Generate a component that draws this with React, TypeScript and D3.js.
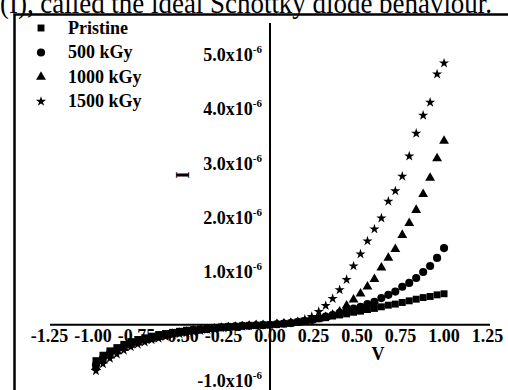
import * as d3 from "d3";
import { useEffect, useRef } from "react";

// bias voltage (V)
const voltage = [
  -1.0, -0.96, -0.92, -0.88, -0.84, -0.8, -0.76, -0.72, -0.68, -0.64, -0.6, -0.56, -0.52,
  -0.48, -0.44, -0.4, -0.36, -0.32, -0.28, -0.24, -0.2, -0.16, -0.12, -0.08, -0.04, 0.0,
  0.04, 0.08, 0.12, 0.16, 0.2, 0.24, 0.28, 0.32, 0.36, 0.4, 0.44, 0.48, 0.52, 0.56, 0.6,
  0.64, 0.68, 0.72, 0.76, 0.8, 0.84, 0.88, 0.92, 0.96, 1.0,
];

// current, in units of 1e-6 A
const pristine = [
  -0.66, -0.56, -0.48, -0.42, -0.36, -0.31, -0.27, -0.24, -0.21, -0.18, -0.16, -0.14, -0.12,
  -0.1, -0.09, -0.08, -0.06, -0.05, -0.04, -0.03, -0.03, -0.02, -0.01, -0.01, 0.0, 0.0,
  0.01, 0.02, 0.03, 0.05, 0.07, 0.09, 0.11, 0.13, 0.16, 0.18, 0.2, 0.23, 0.25, 0.28, 0.3,
  0.33, 0.36, 0.38, 0.41, 0.44, 0.47, 0.5, 0.52, 0.55, 0.57,
];
const kGy500 = [
  -0.74, -0.62, -0.53, -0.46, -0.4, -0.35, -0.31, -0.27, -0.24, -0.21, -0.18, -0.16, -0.14,
  -0.12, -0.1, -0.09, -0.08, -0.06, -0.05, -0.04, -0.03, -0.02, -0.02, -0.01, -0.01, 0.0,
  0.01, 0.02, 0.03, 0.05, 0.07, 0.09, 0.12, 0.15, 0.18, 0.22, 0.26, 0.3, 0.33, 0.38, 0.42,
  0.49, 0.55, 0.61, 0.7, 0.77, 0.86, 0.97, 1.08, 1.23, 1.41,
];
const kGy1000 = [
  -0.78, -0.66, -0.57, -0.49, -0.43, -0.37, -0.33, -0.29, -0.26, -0.23, -0.2, -0.17, -0.15,
  -0.13, -0.11, -0.1, -0.08, -0.07, -0.06, -0.05, -0.04, -0.03, -0.02, -0.01, -0.01, 0.0,
  0.01, 0.02, 0.03, 0.04, 0.06, 0.08, 0.11, 0.14, 0.18, 0.24, 0.35, 0.46, 0.57, 0.7, 0.84,
  1.05, 1.23, 1.39, 1.65, 1.87, 2.11, 2.4, 2.7, 3.06, 3.38,
];
const kGy1500 = [
  -0.85, -0.72, -0.62, -0.54, -0.47, -0.41, -0.36, -0.32, -0.28, -0.25, -0.22, -0.19, -0.17,
  -0.15, -0.13, -0.11, -0.09, -0.08, -0.06, -0.05, -0.04, -0.03, -0.02, -0.01, -0.01, 0.0,
  0.01, 0.02, 0.04, 0.06, 0.1, 0.15, 0.24, 0.35, 0.48, 0.64, 0.83, 1.08, 1.3, 1.54, 1.76,
  1.96, 2.27, 2.46, 2.73, 3.1, 3.52, 3.85, 4.09, 4.61, 4.81,
];

const seriesNames = ["Pristine", "500 kGy", "1000 kGy", "1500 kGy"];
const xTicks = [-1.25, -1.0, -0.75, -0.5, -0.25, 0.0, 0.25, 0.5, 0.75, 1.0, 1.25];
const yTicks = [-1.0, 1.0, 2.0, 3.0, 4.0, 5.0];

const FONT = "'Liberation Serif', 'Times New Roman', serif";

export default function App() {
  const ref = useRef<SVGSVGElement | null>(null);

  useEffect(() => {
    const svg = d3.select(ref.current);
    svg.selectAll("*").remove();

    const width = 508;
    const height = 390;
    svg.attr("viewBox", `0 0 ${width} ${height}`);

    const x = d3.scaleLinear().domain([-1.264, 1.264]).range([50, 490]);
    const y = d3.scaleLinear().domain([-1.2, 5.55]).range([390, 23]);

    // caption line cut off above the figure
    svg
      .append("text")
      .attr("x", 0)
      .attr("y", 12.5)
      .attr("font-family", FONT)
      .attr("font-size", 29)
      .attr("textLength", 492)
      .attr("lengthAdjust", "spacingAndGlyphs")
      .text("(I), called the ideal Schottky diode behaviour.");

    // figure frame (top + left)
    svg
      .append("path")
      .attr("d", `M14.5,${height} V14.5 H${width}`)
      .attr("fill", "none")
      .attr("stroke", "#000")
      .attr("stroke-width", 2.5);

    // axes through the origin
    svg
      .append("line")
      .attr("x1", x(-1.264))
      .attr("x2", x(1.264))
      .attr("y1", y(0))
      .attr("y2", y(0))
      .attr("stroke", "#000")
      .attr("stroke-width", 2);
    svg
      .append("line")
      .attr("x1", x(0))
      .attr("x2", x(0))
      .attr("y1", y(5.55))
      .attr("y2", y(-1.2))
      .attr("stroke", "#000")
      .attr("stroke-width", 2);

    // x tick labels
    svg
      .append("g")
      .selectAll("text")
      .data(xTicks)
      .enter()
      .append("text")
      .attr("x", (d) => x(d) - (d < 0 ? 3 : 0))
      .attr("y", y(0) + 17)
      .attr("text-anchor", "middle")
      .attr("font-family", FONT)
      .attr("font-weight", "bold")
      .attr("font-size", 18)
      .text((d) => d.toFixed(2));

    // y tick labels
    const yl = svg
      .append("g")
      .selectAll("text")
      .data(yTicks)
      .enter()
      .append("text")
      .attr("x", 262)
      .attr("y", (d) => y(d) + 8)
      .attr("text-anchor", "end")
      .attr("font-family", FONT)
      .attr("font-weight", "bold")
      .attr("font-size", 18);
    yl.append("tspan").text((d) => `${d.toFixed(1)}x10`);
    yl.append("tspan").attr("dy", -8).attr("font-size", 11).text("-6");

    // axis titles
    svg
      .append("text")
      .attr("x", 378)
      .attr("y", 360)
      .attr("text-anchor", "middle")
      .attr("font-family", FONT)
      .attr("font-weight", "bold")
      .attr("font-size", 18)
      .text("V");
    svg
      .append("text")
      .attr("transform", "translate(189,175) rotate(-90)")
      .attr("text-anchor", "middle")
      .attr("font-family", FONT)
      .attr("font-weight", "bold")
      .attr("font-size", 18)
      .text("I");

    const symbols = [
      d3.symbol().type(d3.symbolSquare).size(48),
      d3.symbol().type(d3.symbolCircle).size(52),
      d3.symbol().type(d3.symbolTriangle).size(42),
      d3.symbol().type(d3.symbolStar).size(32),
    ];
    const series = [pristine, kGy500, kGy1000, kGy1500];

    series.forEach((vals, s) => {
      svg
        .append("g")
        .selectAll("path")
        .data(vals)
        .enter()
        .append("path")
        .attr("transform", (d, i) => `translate(${x(voltage[i])},${y(d)})`)
        .attr("d", symbols[s]() as string)
        .attr("fill", "#000");
    });

    // legend
    const lg = svg.append("g");
    seriesNames.forEach((name, i) => {
      const cy = 28 + i * 24.5;
      lg.append("path")
        .attr("transform", `translate(41,${cy})`)
        .attr("d", symbols[i]() as string)
        .attr("fill", "#000");
      lg.append("text")
        .attr("x", 68)
        .attr("y", cy + 5.5)
        .attr("font-family", FONT)
        .attr("font-weight", "bold")
        .attr("font-size", 18)
        .text(name);
    });
  }, []);

  return (
    <svg
      ref={ref}
      width={508}
      height={390}
      style={{ position: "absolute", left: 0, top: 0, background: "#fff" }}
    />
  );
}
